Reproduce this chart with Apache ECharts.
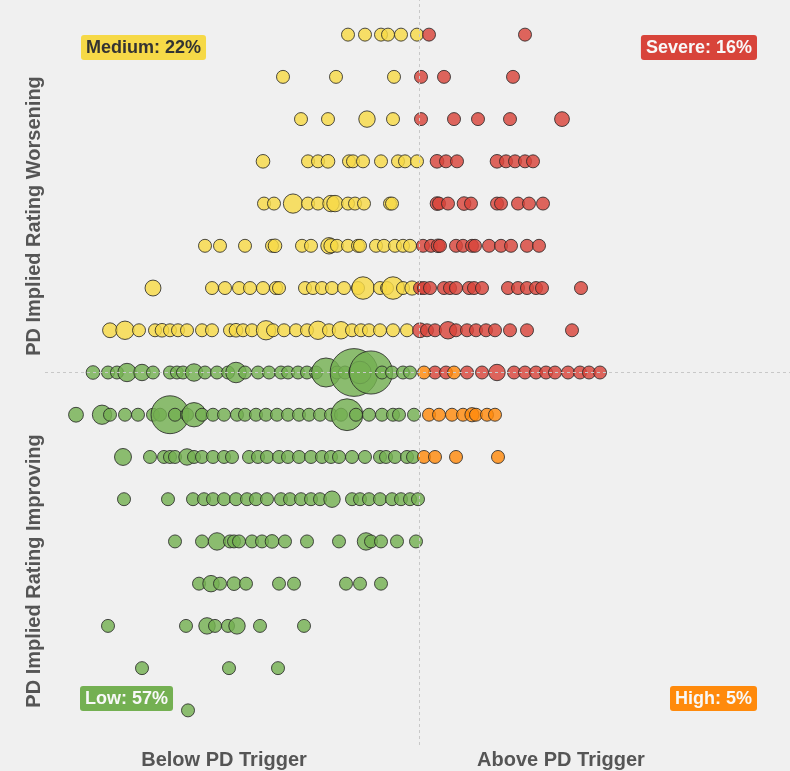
<!DOCTYPE html>
<html>
<head>
<meta charset="utf-8">
<script src="https://cdn.jsdelivr.net/npm/echarts@6/dist/echarts.min.js"></script>
<style>
  html, body { margin: 0; padding: 0; background: #f0f0f0; }
  #chart { width: 790px; height: 771px; }
</style>
</head>
<body>
<div id="chart"></div>
<script>
// each point: [distance to PD trigger, rating notches moved, exposure weight]
const mediumPoints = [
  [-71, 8, 1], [-54, 8, 1], [-38, 8, 1], [-31, 8, 1], [-18, 8, 1], [-2, 8, 1],
  [-136, 7, 1], [-83, 7, 1], [-25, 7, 1],
  [-118, 6, 1], [-91, 6, 1], [-52, 6, 1.6], [-26, 6, 1],
  [-156, 5, 1.1], [-111, 5, 1], [-101, 5, 1], [-91, 5, 1.1], [-70, 5, 1], [-66, 5, 1], [-56, 5, 1],
  [-38, 5, 1], [-21, 5, 1], [-14, 5, 1], [-2, 5, 1],
  [-155, 4, 1], [-145, 4, 1], [-126, 4, 2.2], [-111, 4, 1], [-101, 4, 1], [-88, 4, 1.6], [-84, 4, 1.6],
  [-71, 4, 1], [-64, 4, 1], [-55, 4, 1], [-29, 4, 1], [-27, 4, 1],
  [-214, 3, 1], [-199, 3, 1], [-174, 3, 1], [-147, 3, 1], [-144, 3, 1.1], [-117, 3, 1], [-108, 3, 1],
  [-90, 3, 1.6], [-88, 3, 1.2], [-82, 3, 1], [-71, 3, 1], [-61, 3, 1], [-59, 3, 1], [-43, 3, 1],
  [-35, 3, 1], [-24, 3, 1], [-16, 3, 1], [-9, 3, 1],
  [-266, 2, 1.5], [-207, 2, 1], [-194, 2, 1], [-180, 2, 1], [-169, 2, 1], [-156, 2, 1], [-143, 2, 1],
  [-140, 2, 1], [-114, 2, 1], [-106, 2, 1], [-97, 2, 1], [-87, 2, 1], [-75, 2, 1], [-61, 2, 1],
  [-56, 2, 3], [-39, 2, 1], [-32, 2, 1], [-26, 2, 3], [-16, 2, 1], [-7, 2, 1.2],
  [-309, 1, 1.3], [-294, 1, 2], [-280, 1, 1], [-264, 1, 1], [-257, 1, 1.1], [-249, 1, 1], [-241, 1, 1],
  [-232, 1, 1], [-217, 1, 1], [-207, 1, 1], [-189, 1, 1], [-183, 1, 1.1], [-176, 1, 1], [-167, 1, 1],
  [-153, 1, 2.2], [-146, 1, 1], [-135, 1, 1], [-123, 1, 1], [-112, 1, 1], [-101, 1, 2], [-90, 1, 1],
  [-78, 1, 1.8], [-67, 1, 1], [-58, 1, 1], [-50, 1, 1], [-39, 1, 1], [-26, 1, 1], [-12, 1, 1]
];

const severePoints = [
  [10, 8, 1], [106, 8, 1],
  [2, 7, 1], [25, 7, 1], [94, 7, 1],
  [2, 6, 1], [35, 6, 1], [59, 6, 1], [91, 6, 1], [143, 6, 1.3],
  [18, 5, 1.1], [27, 5, 1], [38, 5, 1], [78, 5, 1.1], [87, 5, 1], [96, 5, 1], [106, 5, 1], [114, 5, 1],
  [18, 4, 1.1], [20, 4, 1], [29, 4, 1], [45, 4, 1.1], [52, 4, 1], [78, 4, 1], [82, 4, 1],
  [99, 4, 1], [110, 4, 1], [124, 4, 1],
  [4, 3, 1], [12, 3, 1], [19, 3, 1.1], [21, 3, 1], [37, 3, 1], [44, 3, 1], [53, 3, 1], [56, 3, 1],
  [70, 3, 1], [82, 3, 1], [92, 3, 1], [108, 3, 1], [120, 3, 1],
  [1, 2, 1], [5, 2, 1], [11, 2, 1], [25, 2, 1], [31, 2, 1], [37, 2, 1], [50, 2, 1], [55, 2, 1],
  [63, 2, 1], [89, 2, 1], [99, 2, 1], [108, 2, 1], [117, 2, 1], [123, 2, 1], [162, 2, 1],
  [1, 1, 1.3], [8, 1, 1], [16, 1, 1], [29, 1, 1.8], [37, 1, 1], [48, 1, 1], [57, 1, 1],
  [67, 1, 1], [76, 1, 1], [91, 1, 1], [108, 1, 1], [153, 1, 1],
  [16, 0, 1], [27, 0, 1], [48, 0, 1], [63, 0, 1], [78, 0, 1.6], [95, 0, 1], [106, 0, 1],
  [117, 0, 1], [127, 0, 1], [136, 0, 1], [149, 0, 1], [161, 0, 1], [170, 0, 1], [181, 0, 1]
];

const highPoints = [
  [5, 0, 1], [35, 0, 1],
  [10, -1, 1], [20, -1, 1], [33, -1, 1], [44, -1, 1], [53, -1, 1.2], [57, -1, 1], [68, -1, 1], [76, -1, 1],
  [5, -2, 1], [16, -2, 1], [37, -2, 1], [79, -2, 1]
];

const lowPoints = [
  [-326, 0, 1.1], [-311, 0, 1], [-302, 0, 1], [-292, 0, 2], [-277, 0, 1.6], [-266, 0, 1], [-249, 0, 1],
  [-242, 0, 1], [-236, 0, 1], [-225, 0, 1.8], [-214, 0, 1], [-202, 0, 1], [-191, 0, 1], [-183, 0, 2.5],
  [-174, 0, 1], [-161, 0, 1], [-150, 0, 1], [-138, 0, 1], [-131, 0, 1], [-121, 0, 1], [-112, 0, 1],
  [-103, 0, 1], [-93, 0, 5], [-82, 0, 1], [-74, 0, 1], [-65, 0, 13.5], [-59, 0, 3], [-48, 0, 11],
  [-37, 0, 1], [-27, 0, 1], [-16, 0, 1], [-9, 0, 1],
  [-343, -1, 1.3], [-317, -1, 2.2], [-309, -1, 1], [-294, -1, 1], [-281, -1, 1], [-266, -1, 1],
  [-259, -1, 1], [-249, -1, 8.5], [-244, -1, 1], [-232, -1, 1], [-225, -1, 3.5], [-217, -1, 1],
  [-206, -1, 1], [-195, -1, 1], [-182, -1, 1], [-174, -1, 1], [-163, -1, 1], [-153, -1, 1],
  [-142, -1, 1], [-131, -1, 1], [-120, -1, 1], [-110, -1, 1], [-99, -1, 1], [-88, -1, 1],
  [-78, -1, 1], [-72, -1, 6], [-63, -1, 1], [-50, -1, 1], [-37, -1, 1], [-26, -1, 1], [-20, -1, 1], [-5, -1, 1],
  [-296, -2, 1.7], [-269, -2, 1], [-255, -2, 1], [-249, -2, 1], [-244, -2, 1], [-232, -2, 1.6],
  [-225, -2, 1], [-217, -2, 1], [-206, -2, 1], [-195, -2, 1], [-187, -2, 1], [-170, -2, 1],
  [-161, -2, 1], [-152, -2, 1], [-140, -2, 1], [-131, -2, 1], [-120, -2, 1], [-108, -2, 1],
  [-97, -2, 1], [-88, -2, 1], [-80, -2, 1], [-67, -2, 1], [-54, -2, 1], [-39, -2, 1],
  [-33, -2, 1], [-24, -2, 1], [-12, -2, 1], [-6, -2, 1],
  [-295, -3, 1], [-251, -3, 1], [-226, -3, 1], [-215, -3, 1], [-206, -3, 1], [-195, -3, 1],
  [-183, -3, 1], [-172, -3, 1], [-163, -3, 1], [-152, -3, 1], [-138, -3, 1], [-129, -3, 1],
  [-118, -3, 1], [-108, -3, 1], [-99, -3, 1], [-87, -3, 1.6], [-67, -3, 1], [-59, -3, 1],
  [-50, -3, 1], [-39, -3, 1], [-27, -3, 1], [-18, -3, 1], [-9, -3, 1], [-1, -3, 1],
  [-244, -4, 1], [-217, -4, 1], [-202, -4, 1.8], [-189, -4, 1], [-185, -4, 1], [-180, -4, 1],
  [-167, -4, 1], [-157, -4, 1], [-147, -4, 1.1], [-134, -4, 1], [-112, -4, 1], [-80, -4, 1],
  [-53, -4, 1.8], [-48, -4, 1], [-38, -4, 1], [-22, -4, 1], [-3, -4, 1],
  [-220, -5, 1], [-208, -5, 1.6], [-199, -5, 1], [-185, -5, 1.1], [-173, -5, 1], [-140, -5, 1],
  [-125, -5, 1], [-73, -5, 1], [-59, -5, 1], [-38, -5, 1],
  [-311, -6, 1], [-233, -6, 1], [-212, -6, 1.6], [-204, -6, 1], [-191, -6, 1], [-182, -6, 1.6],
  [-159, -6, 1], [-115, -6, 1],
  [-277, -7, 1], [-190, -7, 1], [-141, -7, 1],
  [-231, -8, 1]
];

const quadrantLabels = ["Medium: 22%", "Severe: 16%", "Low: 57%", "High: 5%"];
const axisTitles = ["PD Implied Rating Worsening", "PD Implied Rating Improving", "Below PD Trigger", "Above PD Trigger"];

const chart = echarts.init(document.getElementById("chart"));

function bubble(name, data, color) {
  return {
    name: name,
    type: "scatter",
    data: data,
    symbolSize: function (v) {
      return 13 * Math.sqrt(v[2]);
    },
    itemStyle: {
      color: color,
      opacity: 0.82,
      borderColor: "#262626",
      borderWidth: 1
    },
    emphasis: { disabled: true }
  };
}

const series = [
  bubble("Medium", mediumPoints, "#f6d947"),
  bubble("Severe", severePoints, "#d8443a"),
  bubble("Low", lowPoints, "#74b052"),
  bubble("High", highPoints, "#ff8a0c")
];
series[0].markLine = {
  silent: true,
  symbol: "none",
  label: { show: false },
  lineStyle: { color: "#c8c8c8", type: [3, 3], width: 1 },
  data: [{ xAxis: 0 }, { yAxis: 0 }]
};

const labelFont = 'bold 18px "Liberation Sans", Arial, sans-serif';
const titleFont = 'bold 20px "Liberation Sans", Arial, sans-serif';

chart.setOption({
  backgroundColor: "#f0f0f0",
  animation: false,
  grid: { left: 45, right: 0, top: 0, bottom: 26 },
  xAxis: { type: "value", min: -374, max: 371, show: false },
  yAxis: { type: "value", min: -8.82, max: 8.82, show: false },
  series: series,
  graphic: [
    {
      type: "text", x: 34, y: 216, rotation: Math.PI / 2,
      style: { text: axisTitles[0], fill: "#555", font: titleFont, align: "center", verticalAlign: "middle" }
    },
    {
      type: "text", x: 34, y: 571, rotation: Math.PI / 2,
      style: { text: axisTitles[1], fill: "#555", font: titleFont, align: "center", verticalAlign: "middle" }
    },
    {
      type: "text", x: 224, y: 760,
      style: { text: axisTitles[2], fill: "#555", font: titleFont, align: "center", verticalAlign: "middle" }
    },
    {
      type: "text", x: 561, y: 760,
      style: { text: axisTitles[3], fill: "#555", font: titleFont, align: "center", verticalAlign: "middle" }
    },
    {
      type: "text", x: 81, y: 35,
      style: {
        text: quadrantLabels[0], fill: "#333", font: labelFont, align: "left", verticalAlign: "top",
        backgroundColor: "#f6d947", padding: [4, 5, 3, 5], borderRadius: 3
      }
    },
    {
      type: "text", x: 757, y: 35,
      style: {
        text: quadrantLabels[1], fill: "#f8f8f8", font: labelFont, align: "right", verticalAlign: "top",
        backgroundColor: "#d8443a", padding: [4, 5, 3, 5], borderRadius: 3
      }
    },
    {
      type: "text", x: 80, y: 686,
      style: {
        text: quadrantLabels[2], fill: "#f8f8f8", font: labelFont, align: "left", verticalAlign: "top",
        backgroundColor: "#74b052", padding: [4, 5, 3, 5], borderRadius: 3
      }
    },
    {
      type: "text", x: 757, y: 686,
      style: {
        text: quadrantLabels[3], fill: "#f8f8f8", font: labelFont, align: "right", verticalAlign: "top",
        backgroundColor: "#ff8a0c", padding: [4, 5, 3, 5], borderRadius: 3
      }
    }
  ]
});
</script>
</body>
</html>
